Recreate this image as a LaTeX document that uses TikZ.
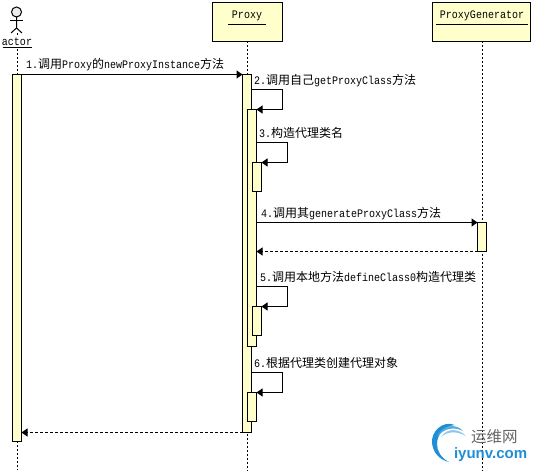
\documentclass[tikz,border=0pt]{standalone}
\usepackage{fontspec}
\setmainfont{Liberation Serif}
\newfontfamily\latinmono[FakeStretch=0.87]{Liberation Mono}
\newfontfamily\cjk{Noto Sans CJK SC}
\newfontfamily\logosans{Liberation Sans}
\newcommand{\zh}[1]{{\fontsize{12}{12}\selectfont\cjk #1}}
\usetikzlibrary{arrows.meta}
\definecolor{boxy}{HTML}{FFFFCC}
\definecolor{logob}{HTML}{1E8FD5}
\definecolor{logog}{HTML}{666666}
\tikzset{
  every node/.style={inner sep=0pt,outer sep=0pt,font=\fontsize{11.5}{12}\selectfont\latinmono},
  head/.style={draw=black,fill=boxy,line width=1pt,anchor=north west},
  act/.style={draw=black,fill=boxy,line width=1pt,anchor=north west,minimum width=9pt},
  life/.style={line width=1pt,dash pattern=on 2pt off 2pt},
  msg/.style={line width=1pt,-{Triangle[length=6pt,width=8pt]}},
  ret/.style={line width=1pt,dash pattern=on 3pt off 2pt,-{Triangle[length=6pt,width=8pt]}},
  lbl/.style={anchor=base west},
  ul/.style={line width=1pt}
}
\begin{document}
\begin{tikzpicture}[x=1pt,y=-1pt]
\useasboundingbox (0,0) rectangle (534,470);
% lifeline ends
\coordinate (eA) at (17,470);
\coordinate (eP) at (247,470);
\coordinate (eG) at (482.5,470);
% heads
\node[head,minimum width=70pt,minimum height=39pt] (proxy) at (212.5,2.5) {};
\node[head,minimum width=98pt,minimum height=39pt] (gen) at (432.5,2.5) {};
\coordinate (actorfoot) at (17,33);
\draw[life] (actorfoot) -- (eA);
\draw[life] (eP |- proxy.south) -- (eP);
\draw[life] (eG |- gen.south) -- (eG);
% actor
\node[draw=black,fill=gray!15,circle,minimum size=10pt,line width=1pt] (ahead) at (16.5,12) {};
\draw[line width=1pt] (ahead.south) -- (16.5,28) -- (11,33);
\draw[line width=1pt] (16.5,28) -- (22,33);
\draw[line width=1pt] (10,21) -- (23,21);
\node[fill=white,anchor=base,inner ysep=1pt] (alabel) at (17,46) {actor};
\draw[ul] (2.5,47.5) -- (32,47.5);
% head labels
\node[anchor=base] (ptxt) at (247,19) {Proxy};
\draw[ul] (228,24.5) -- (266,24.5);
\node[anchor=base] (gtxt) at (482,19) {ProxyGenerator};
\draw[ul] (436,24.5) -- (527.5,24.5);
% activations
\node[act,minimum height=367pt] (aA) at (12.5,74.5) {};
\node[act,minimum height=358pt] (p1) at (242.5,74.5) {};
\node[act,minimum height=237pt] (p2) at (247.5,109.5) {};
\node[act,minimum height=29pt] (p3) at (252.5,162.5) {};
\node[act,minimum height=29pt] (p5) at (252.5,306.5) {};
\node[act,minimum height=29pt] (p6) at (247.5,392.5) {};
\node[act,minimum height=29pt] (g1) at (477.5,222.5) {};
% messages
\draw[msg] (aA.north east) -- (p1.north west);
\node[lbl] (t1) at (26,69) {1.\zh{调用}Proxy\zh{的}newProxyInstance\zh{方法}};
\coordinate (c2a) at (282.5,89.5);
\draw[msg] (p1.east |- c2a) -- (c2a) -- (282.5,109.5) -- (p2.north east);
\node[lbl] (t2) at (254,85) {2.\zh{调用自己}getProxyClass\zh{方法}};
\coordinate (c3a) at (287.5,142.5);
\draw[msg] (p2.east |- c3a) -- (c3a) -- (287.5,162.5) -- (p3.north east);
\node[lbl] (t3) at (259,138) {3.\zh{构造代理类名}};
\draw[msg] (p2.east |- g1.north west) -- (g1.north west);
\node[lbl] (t4) at (261,217) {4.\zh{调用其}generateProxyClass\zh{方法}};
\draw[ret] (g1.south west) -- (p2.east |- g1.south west);
\coordinate (c5a) at (287.5,286.5);
\draw[msg] (p2.east |- c5a) -- (c5a) -- (287.5,306.5) -- (p5.north east);
\node[lbl] (t5) at (260,281) {5.\zh{调用本地方法}defineClass0\zh{构造代理类}};
\coordinate (c6a) at (282.5,372.5);
\draw[msg] (p1.east |- c6a) -- (c6a) -- (282.5,392.5) -- (p6.north east);
\node[lbl] (t6) at (254,367) {6.\zh{根据代理类创建代理对象}};
\draw[ret] (p1.south west) -- (aA.east |- p1.south west);
% watermark
\fill[logob] (455,425) .. controls (442,420) and (431,432) .. (432,443) .. controls (433,453) and (440,460) .. (449,462) .. controls (441,458) and (437,451) .. (437,444) .. controls (437,434) and (445,426) .. (455,425) -- cycle;
\fill[logob!75] (463,431) .. controls (455,422) and (441,426) .. (437,437) .. controls (443,429) and (453,426) .. (463,431) -- cycle;
\fill[logob!50] (466,436) .. controls (458,428) and (447,428) .. (441,437) .. controls (448,431) and (457,431) .. (466,436) -- cycle;
\node[anchor=west,text=logog] (w1) at (471,436.5) {\fontsize{15.5}{16}\selectfont\cjk 运维网};
\node[anchor=west,text=logob] (w2) at (454,455) {\fontsize{15}{16}\selectfont\logosans\bfseries iyunv.com};
\end{tikzpicture}
\end{document}
